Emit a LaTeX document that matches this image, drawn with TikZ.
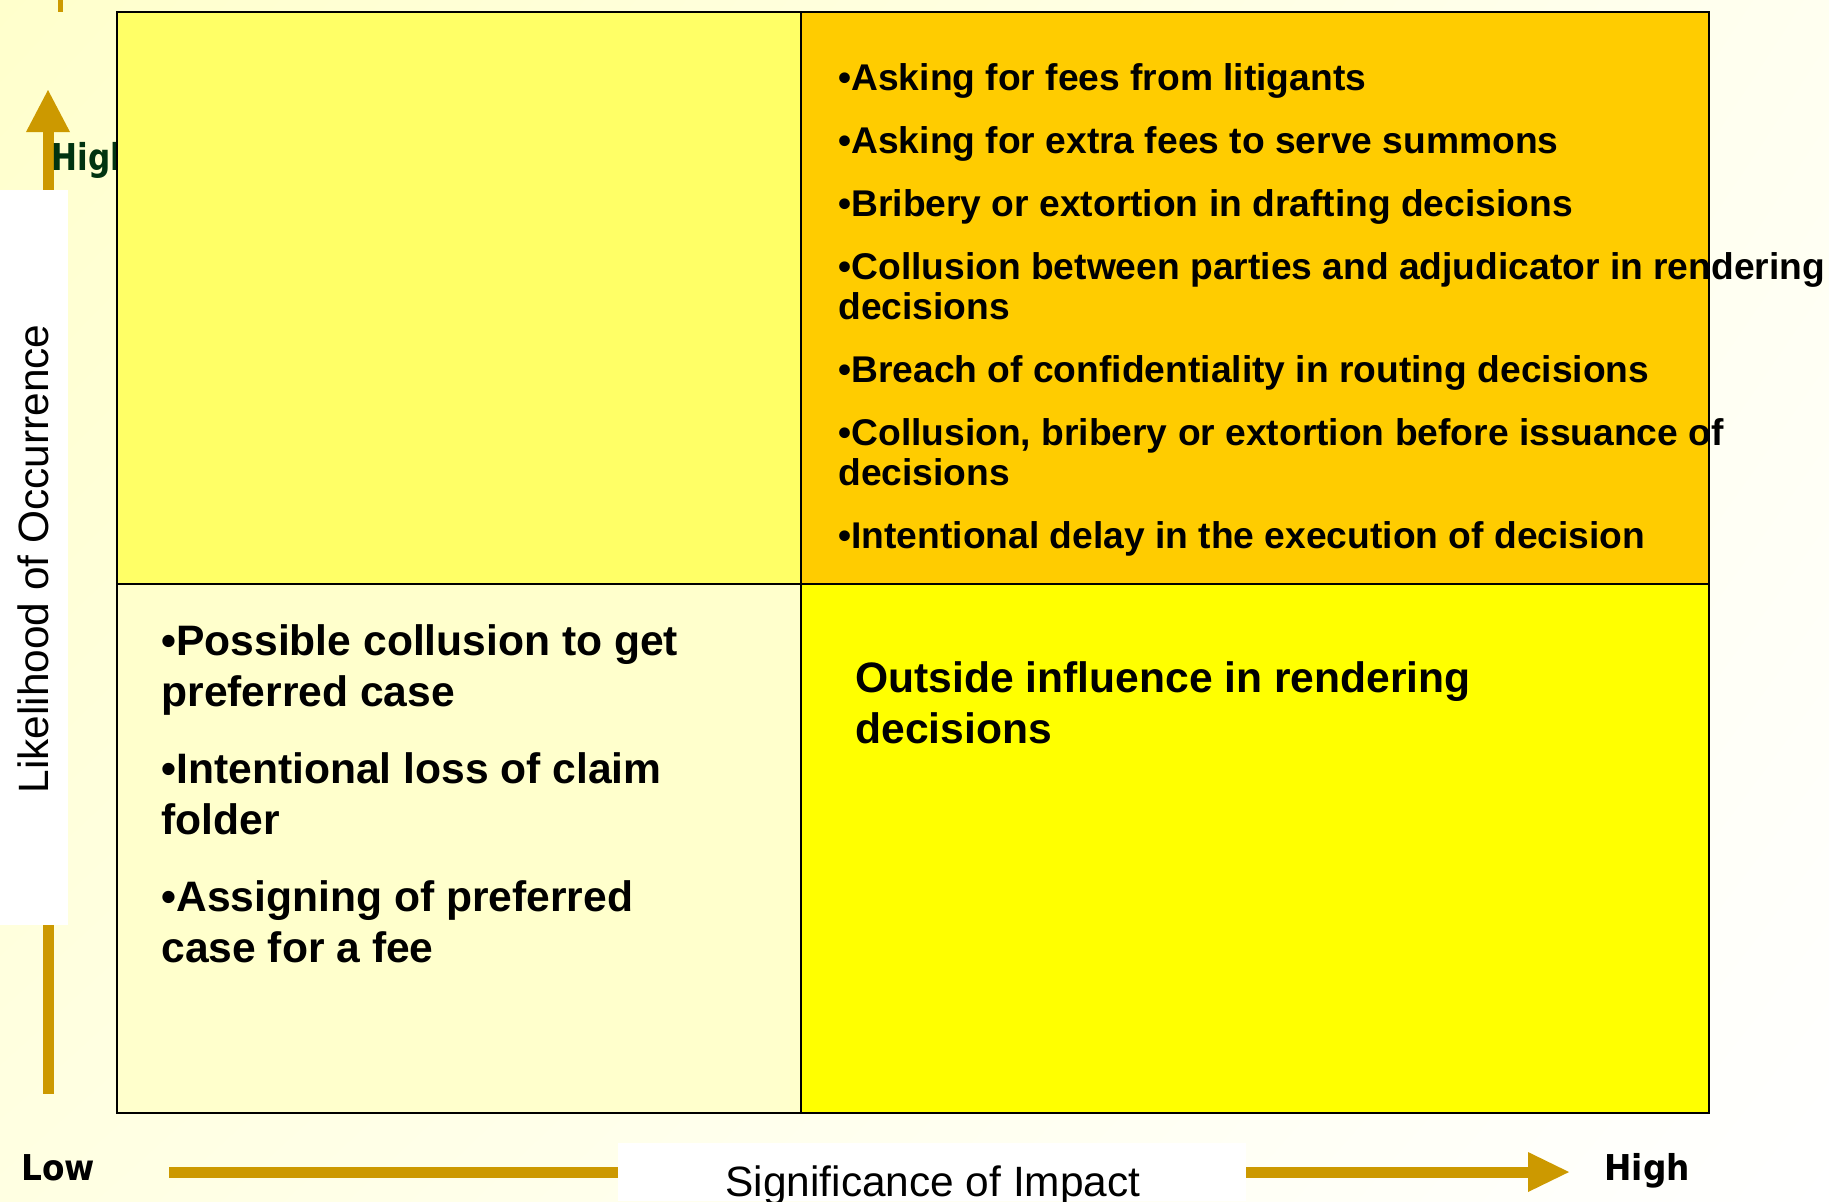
\documentclass[tikz,border=0pt]{standalone}
\usepackage{fontspec}
\usetikzlibrary{shadings}
\setmainfont{Liberation Sans}
\newfontfamily\tahoma[FakeStretch=0.92]{DejaVu Sans}
\newfontfamily\tahomanarrow[FakeStretch=0.84]{DejaVu Sans}
\definecolor{bgTL}{HTML}{FFFFCC}
\definecolor{bgTR}{HTML}{FFFFF0}
\definecolor{bgBL}{HTML}{FFFFE2}
\definecolor{bgBR}{HTML}{FFFFFF}
\definecolor{qUL}{HTML}{FFFF66}
\definecolor{qUR}{HTML}{FFCC00}
\definecolor{qLL}{HTML}{FFFFCC}
\definecolor{qLR}{HTML}{FFFF00}
\definecolor{axiscol}{HTML}{CC9900}
\definecolor{dkgreen}{HTML}{003310}
\tikzset{
  small/.style={anchor=base west, inner sep=0pt, font=\bfseries\fontsize{18.6}{20}\selectfont},
  big/.style={anchor=base west, inner sep=0pt, font=\bfseries\fontsize{21.3}{25}\selectfont},
  axlab/.style={inner sep=0pt, font=\fontsize{21.2}{24}\selectfont},
  lowhigh/.style={anchor=base west, inner sep=0pt, font=\tahoma\bfseries\fontsize{17.8}{20}\selectfont},
}
\begin{document}
\begin{tikzpicture}[x=0.5pt,y=-0.5pt]
\useasboundingbox (0,0) rectangle (1829,1201);
\shade[upper left=bgTL, upper right=bgTR, lower left=bgBL, lower right=bgBR] (0,0) rectangle (1829,1201);
% top tick fragment
\fill[axiscol] (58,0) rectangle (63,12);
% vertical arrow
\fill[axiscol] (42.5,1094) rectangle (53.5,130);
\fill[axiscol] (26,132) -- (48,90) -- (70,132) -- cycle;
% green High (partly hidden)
\node[lowhigh, text=dkgreen, font=\tahomanarrow\bfseries\fontsize{18.5}{20}\selectfont] (hiY) at (51,170) {High};
% white box behind vertical label
\fill[white] (0,190) rectangle (68,925);
\node[axlab, rotate=90] (ylab) at (33,559) {Likelihood of Occurrence};
% quadrants
\fill[qUL] (117,12) rectangle (801,584);
\fill[qUR] (801,12) rectangle (1709,584);
\fill[qLL] (117,584) rectangle (801,1113);
\fill[qLR] (801,584) rectangle (1709,1113);
\draw[line width=1pt] (117,12) rectangle (1709,1113);
\draw[line width=1pt] (801,12) -- (801,1113);
\draw[line width=1pt] (117,584) -- (1709,584);
% upper right list
\node[small] (u1) at (838,90) {•Asking for fees from litigants};
\node[small] (u2) at (838,153) {•Asking for extra fees to serve summons};
\node[small] (u3) at (838,216) {•Bribery or extortion in drafting decisions};
\node[small] (u4) at (838,279) {•Collusion between parties and adjudicator in rendering};
\node[small] (u4b) at (838,319) {decisions};
\node[small] (u5) at (838,382) {•Breach of confidentiality in routing decisions};
\node[small] (u6) at (838,445) {•Collusion, bribery or extortion before issuance of};
\node[small] (u6b) at (838,485) {decisions};
\node[small] (u7) at (838,548) {•Intentional delay in the execution of decision};
% lower left list
\node[big] (l1) at (161,655) {•Possible collusion to get};
\node[big] (l1b) at (161,706) {preferred case};
\node[big] (l2) at (161,783) {•Intentional loss of claim};
\node[big] (l2b) at (161,834) {folder};
\node[big] (l3) at (161,911) {•Assigning of preferred};
\node[big] (l3b) at (161,962) {case for a fee};
% lower right
\node[big] (r1) at (855,692) {Outside influence in rendering};
\node[big] (r1b) at (855,743) {decisions};
% horizontal arrow
\fill[axiscol] (169,1166.5) rectangle (1530,1177.5);
\fill[axiscol] (1528,1152) -- (1569,1172) -- (1528,1192) -- cycle;
\fill[white] (618,1143) rectangle (1246,1201);
\node[axlab, anchor=base] (xlab) at (933,1196) {Significance of Impact};
\node[lowhigh] (low) at (21,1180) {Low};
\node[lowhigh] (high) at (1604,1180) {High};
\end{tikzpicture}
\end{document}
